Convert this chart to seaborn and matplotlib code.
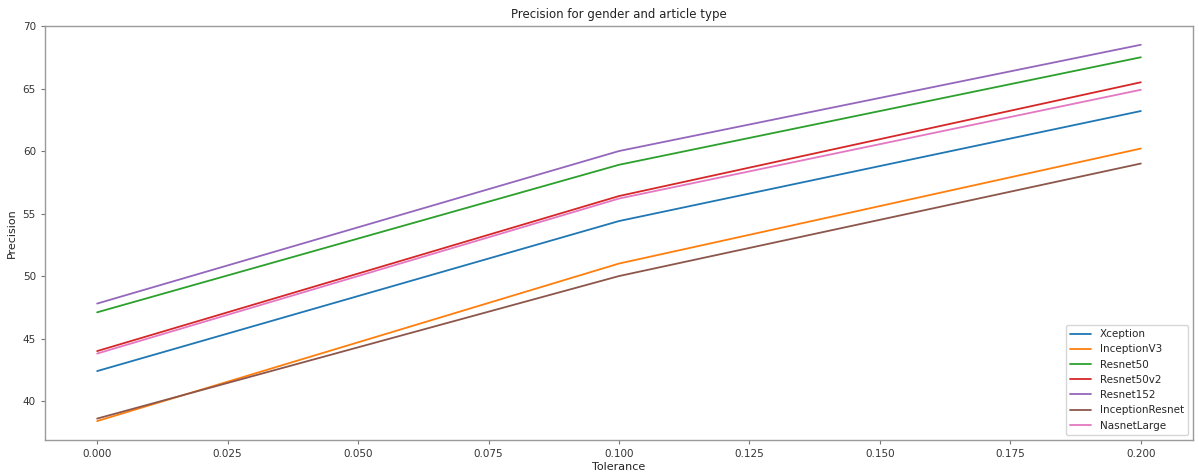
import numpy as np
import pandas as pd
import matplotlib
matplotlib.use("Agg")
import matplotlib.pyplot as plt
import seaborn as sns

# Tolerance levels and precision per model
tolerance = [0.0, 0.1, 0.2]
models = ["Xception", "InceptionV3", "Resnet50", "Resnet50v2",
          "Resnet152", "InceptionResnet", "NasnetLarge"]
xception = [42.4, 54.4, 63.2]
inception_v3 = [38.4, 51.0, 60.2]
resnet50 = [47.1, 58.9, 67.5]
resnet50v2 = [44.0, 56.4, 65.5]
resnet152 = [47.8, 60.0, 68.5]
inception_resnet = [38.6, 50.0, 59.0]
nasnet_large = [43.8, 56.2, 64.9]

series = [xception, inception_v3, resnet50, resnet50v2,
          resnet152, inception_resnet, nasnet_large]

df = pd.DataFrame({
    "Tolerance": np.tile(tolerance, len(models)),
    "Precision": np.concatenate(series),
    "Model": np.repeat(models, len(tolerance)),
})

sns.set_style("white")
plt.rcParams["font.family"] = ["DejaVu Sans"]
plt.rcParams["font.size"] = 8

fig = plt.figure(figsize=(11.99, 4.72), dpi=100)
ax = fig.add_axes([0.0375, 0.068, 0.9575, 0.877])

sns.lineplot(data=df, x="Tolerance", y="Precision", hue="Model",
             hue_order=models, palette=sns.color_palette("tab10", 7),
             linewidth=1.3, ax=ax)

ax.set_xticks(np.arange(0, 0.2001, 0.025))
ax.set_xticklabels([f"{v:.3f}" for v in np.arange(0, 0.2001, 0.025)])
ax.set_title("Precision for gender and article type", fontsize=8.5, color="#222222")
ax.set_xlabel("Tolerance", fontsize=8, color="#222222", labelpad=2)
ax.set_ylabel("Precision", fontsize=8, color="#222222", labelpad=4)
ax.tick_params(axis="both", labelsize=7.5, colors="#333333", length=3,
               width=0.8, left=True, bottom=True, color="#777777")
for s in ax.spines.values():
    s.set_color("#9a9a9a")
    s.set_linewidth(1.0)

leg = ax.legend(loc="lower right", fontsize=7.5, frameon=True, title=None)
leg.get_frame().set_edgecolor("#cccccc")

fig.savefig("out.png", dpi=100)
